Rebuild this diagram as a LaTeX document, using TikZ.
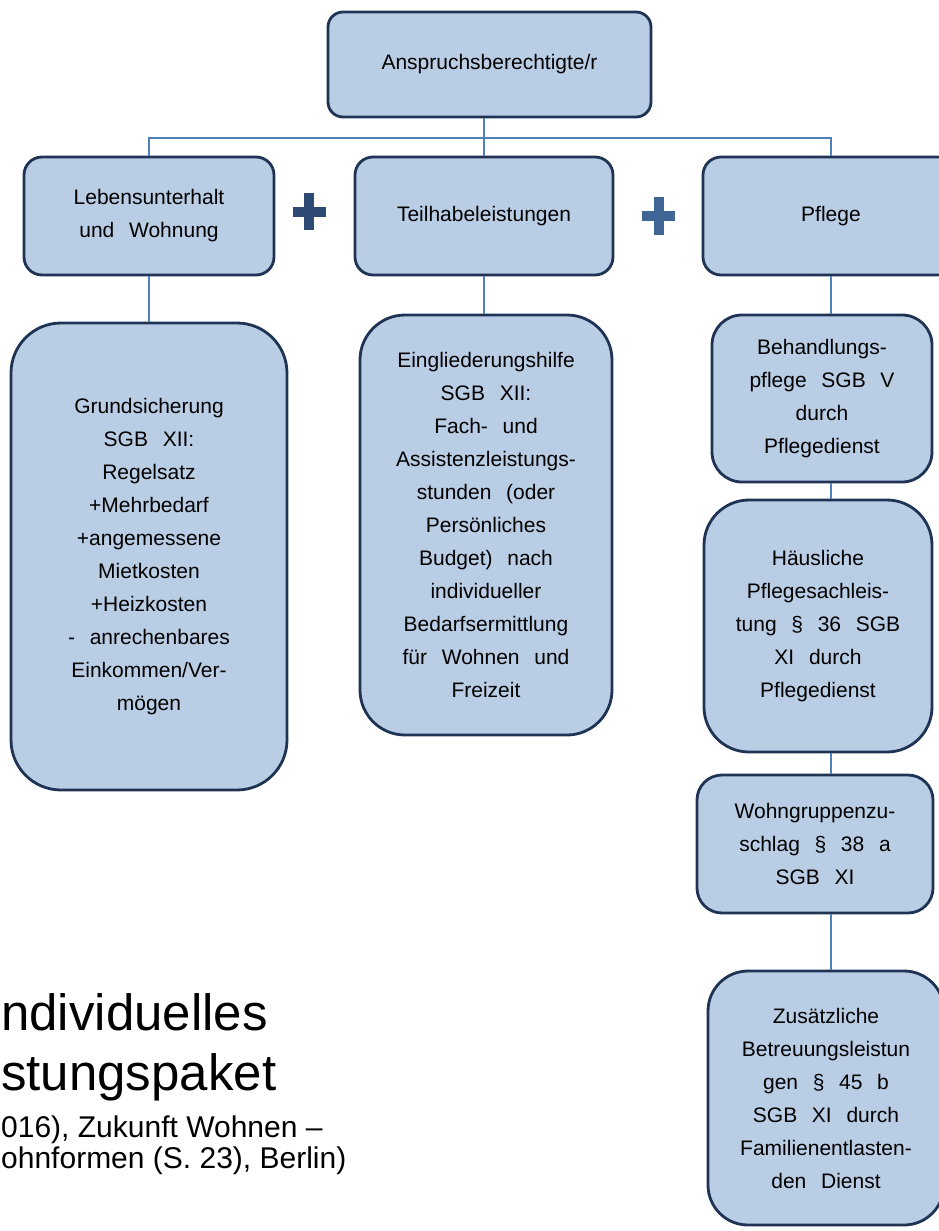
\documentclass[tikz,border=0pt]{standalone}
\usepackage{fontspec}
\setmainfont{Liberation Sans}
\definecolor{boxfill}{HTML}{B9CDE5}
\definecolor{boxline}{HTML}{1F3354}
\definecolor{linkblue}{HTML}{4F81BD}
\definecolor{plusdark}{HTML}{2D4A73}
\definecolor{pluslight}{HTML}{3F6697}
\newcommand{\wsp}{\hspace{0.7em}}

\begin{document}
\begin{tikzpicture}[x=1pt,y=-1pt]
  \tikzstyle{box}=[draw=boxline,line width=2.8pt,fill=boxfill,align=center,inner sep=0pt,font=\fontsize{21}{33}\selectfont]
  \tikzstyle{link}=[draw=linkblue,line width=2.4pt]
  \tikzstyle{plus}=[line width=10pt]
  \tikzstyle{big}=[anchor=base west,inner sep=0pt,font=\fontsize{51}{60}\selectfont]
  \tikzstyle{small}=[anchor=base west,inner sep=0pt,font=\fontsize{30}{31}\selectfont]
  \useasboundingbox (0,0) rectangle (938,1231);
  \coordinate (bar) at (484,138);
  % first level
  \begin{scope}
    \node [box,rounded corners=15pt,minimum width=323pt,minimum height=105pt] (top) at (489.5,64.5) {Anspruchsberechtigte/r};
    \node [box,rounded corners=18pt,minimum width=250pt,minimum height=118pt] (lw) at (149,216) {Lebensunterhalt\\und\wsp Wohnung};
    \node [box,rounded corners=18pt,minimum width=258pt,minimum height=118pt] (th) at (484,216) {Teilhabeleistungen};
    \node [box,rounded corners=18pt,minimum width=256pt,minimum height=118pt] (pf) at (831,216) {Pflege};
    \path[link] (top.south -| th.north) -- (th.north);
    \path[link] (lw.north) |- (bar) -| (pf.north);
  \end{scope}
  % plus signs
  \draw[plus,draw=plusdark] (293,212) -- (326,212) (309,193) -- (309,230);
  \draw[plus,draw=pluslight] (642,216) -- (675,216) (659,197) -- (659,235);
  % second level
  \begin{scope}
    \node [box,rounded corners=50pt,minimum width=276pt,minimum height=467pt] (gs) at (149,556.5)
      {Grundsicherung\\SGB\wsp XII:\\Regelsatz\\+Mehrbedarf\\+angemessene\\Mietkosten\\+Heizkosten\\-\wsp anrechenbares\\Einkommen/Ver-\\mögen};
    \node [box,rounded corners=45pt,minimum width=252pt,minimum height=420pt] (eg) at (486,525)
      {Eingliederungshilfe\\SGB\wsp XII:\\Fach-\wsp und\\Assistenzleistungs-\\stunden\wsp (oder\\Persönliches\\Budget)\wsp nach\\individueller\\Bedarfsermittlung\\für\wsp Wohnen\wsp und\\Freizeit};
    \node [box,rounded corners=30pt,minimum width=220pt,minimum height=167pt] (bp) at (822,398.5)
      {Behandlungs-\\pflege\wsp SGB\wsp V\\durch\\Pflegedienst};
    \node [box,rounded corners=45pt,minimum width=228pt,minimum height=252pt] (hp) at (818,626)
      {Häusliche\\Pflegesachleis-\\tung\wsp §\wsp 36\wsp SGB\\XI\wsp durch\\Pflegedienst};
    \node [box,rounded corners=25pt,minimum width=236pt,minimum height=138pt] (wg) at (815,844)
      {Wohngruppenzu-\\schlag\wsp §\wsp 38\wsp a\\SGB\wsp XI};
    \node [box,rounded corners=40pt,minimum width=236pt,minimum height=254pt] (zb) at (826,1098)
      {Zusätzliche\\Betreuungsleistun\\gen\wsp §\wsp 45\wsp b\\SGB\wsp XI\wsp durch\\Familienentlasten-\\den\wsp Dienst};
    \path[link] (lw.south) -- (lw.south |- gs.north);
    \path[link] (th.south) -- (th.south |- eg.north);
    \path[link] (pf.south) -- (pf.south |- bp.north);
    \path[link] (bp.south -| pf.south) -- (hp.north -| pf.south);
    \path[link] (hp.south -| pf.south) -- (wg.north -| pf.south);
    \path[link] (wg.south -| pf.south) -- (zb.north -| pf.south);
  \end{scope}
  % caption
  \node [big] (cap1) at (1,1030) {ndividuelles};
  \node [big] (cap2) at (1,1090) {stungspaket};
  \node [small] (src1) at (1,1137) {016), Zukunft Wohnen –};
  \node [small] (src2) at (1,1168) {ohnformen (S. 23), Berlin)};
\end{tikzpicture}
\end{document}
